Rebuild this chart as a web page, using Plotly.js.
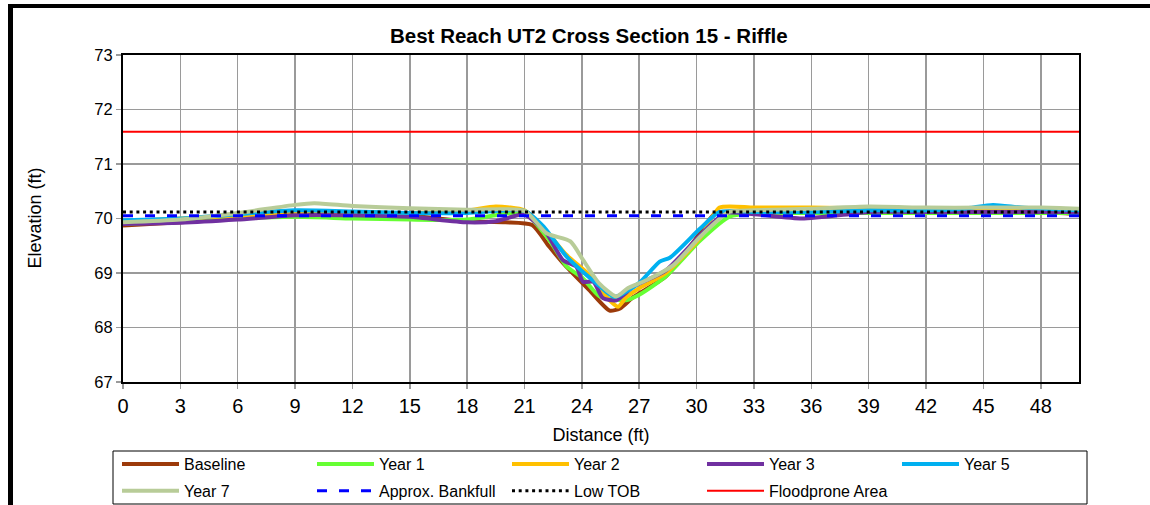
<!DOCTYPE html>
<html>
<head>
<meta charset="utf-8">
<script src="https://cdn.plot.ly/plotly-3.0.1.min.js"></script>
<style>
  html, body { margin: 0; padding: 0; background: #fff; overflow: hidden; }
  #frame { position: absolute; left: 8px; top: 4px; width: 2000px; height: 2000px;
           border-left: 5px solid #000; border-top: 4px solid #000; }
  #chart { position: absolute; left: 0; top: 0; width: 1150px; height: 505px; }
</style>
</head>
<body>
<div id="frame"></div>
<div id="chart"></div>
<script>
// ---- data ----
const baselineX = [0, 3, 6, 9, 12, 15, 18, 20, 21.4, 22.3, 23.2, 24.4, 25.45, 26.0, 26.7, 28.4, 29.9, 31.0, 33, 36, 39, 42, 45, 48, 50];
const baselineY = [69.87, 69.93, 70.0, 70.08, 70.08, 70.05, 69.95, 69.93, 69.88, 69.48, 69.11, 68.68, 68.31, 68.35, 68.56, 68.94, 69.6, 70.1, 70.12, 70.1, 70.12, 70.12, 70.12, 70.12, 70.08];

const year1X = [0, 3, 6, 9, 12, 15, 18, 21, 22.3, 23.2, 24.06, 24.9, 26.3, 27, 28.4, 30.2, 31.7, 33, 36, 39, 42, 45, 48, 50];
const year1Y = [69.9, 69.95, 70.0, 70.03, 70.0, 69.98, 69.98, 70.1, 69.6, 69.12, 68.9, 68.58, 68.5, 68.6, 68.94, 69.6, 70.03, 70.1, 70.1, 70.1, 70.1, 70.1, 70.1, 70.1];

const year2X = [0, 3, 6, 9, 12, 15, 18, 19.5, 21, 22.3, 23.2, 24.4, 25.45, 25.9, 26.3, 27, 28.4, 30.2, 31.2, 33, 36, 39, 42, 45, 48, 50];
const year2Y = [69.95, 70.0, 70.05, 70.12, 70.12, 70.1, 70.15, 70.22, 70.15, 69.7, 69.33, 68.96, 68.5, 68.38, 68.55, 68.72, 69.0, 69.65, 70.2, 70.2, 70.2, 70.18, 70.15, 70.15, 70.15, 70.15];

const year3X = [0, 3, 6, 9, 12, 15, 18, 19.5, 21, 22.15, 23.0, 23.7, 24.06, 24.6, 25.1, 25.8, 26.7, 28.4, 30.2, 31.5, 33, 35.5, 38, 39, 42, 45, 48, 50];
const year3Y = [69.9, 69.92, 69.98, 70.06, 70.06, 70.03, 69.93, 69.95, 70.07, 69.73, 69.24, 69.12, 68.84, 68.84, 68.54, 68.5, 68.75, 69.05, 69.7, 70.1, 70.08, 70.0, 70.08, 70.12, 70.12, 70.12, 70.12, 70.12];

const year5X = [0, 3, 6, 9, 12, 15, 18, 21, 22.0, 23.2, 24.76, 25.7, 27, 28.07, 28.6, 30.2, 31.2, 33, 36, 39, 42, 44, 45.5, 47, 50];
const year5Y = [69.97, 70.0, 70.08, 70.15, 70.13, 70.1, 70.1, 70.14, 69.85, 69.3, 68.81, 68.56, 68.82, 69.21, 69.28, 69.82, 70.12, 70.12, 70.12, 70.15, 70.15, 70.18, 70.25, 70.2, 70.15];

const year7X = [0, 3, 6, 9, 10, 12, 15, 18, 21, 22.15, 23.4, 24.06, 24.9, 25.8, 26.4, 27.4, 28.8, 30.2, 31.7, 33, 36, 39, 42, 45, 48, 50];
const year7Y = [69.93, 69.98, 70.1, 70.25, 70.28, 70.23, 70.19, 70.16, 70.14, 69.73, 69.58, 69.24, 68.81, 68.57, 68.72, 68.87, 69.15, 69.67, 70.12, 70.15, 70.18, 70.22, 70.2, 70.2, 70.2, 70.18];

const refX = [0, 50];
const bankfullY = [70.05, 70.05];
const lowTobY = [70.12, 70.12];
const floodproneY = [71.59, 71.59];

const xTicks = [0, 3, 6, 9, 12, 15, 18, 21, 24, 27, 30, 33, 36, 39, 42, 45, 48];
const yTicks = [67, 68, 69, 70, 71, 72, 73];

const seriesNames = ['Baseline', 'Year 1', 'Year 2', 'Year 3', 'Year 5', 'Year 7'];
const seriesColors = ['#9C3A0A', '#66FF33', '#FFC000', '#7030A0', '#00B0F0', '#B8CC98'];
const seriesXs = [baselineX, year1X, year2X, year3X, year5X, year7X];
const seriesYs = [baselineY, year1Y, year2Y, year3Y, year5Y, year7Y];
// legend column for each entry (Excel-style 5-column legend)
const seriesLegend = ['legend', 'legend2', 'legend3', 'legend4', 'legend5', 'legend'];

const traces = seriesNames.map((n, i) => ({
  x: seriesXs[i], y: seriesYs[i], name: n, mode: 'lines', type: 'scatter',
  legend: seriesLegend[i], legendgroup: 'g' + i,
  line: { color: seriesColors[i], width: 4, shape: 'spline', smoothing: 0.6 }
}));
traces.push({ x: refX, y: bankfullY, name: 'Approx. Bankfull', mode: 'lines', legend: 'legend2', legendgroup: 'g6',
  line: { color: '#0000FF', width: 3, dash: '10px,12px' } });
traces.push({ x: refX, y: lowTobY, name: 'Low TOB', mode: 'lines', legend: 'legend3', legendgroup: 'g7',
  line: { color: '#000000', width: 3, dash: '3px,3.7px' } });
traces.push({ x: refX, y: floodproneY, name: 'Floodprone Area', mode: 'lines', legend: 'legend4', legendgroup: 'g8',
  line: { color: '#FF0000', width: 2 } });

const font = 'Arial, "Liberation Sans", sans-serif';
function legendAt(col) {
  return {
    orientation: 'v', xref: 'container', yref: 'container',
    x: (117 + 195 * col) / 1150, xanchor: 'left', y: 1 - 447 / 505, yanchor: 'top',
    bgcolor: 'rgba(0,0,0,0)', borderwidth: 0,
    font: { size: 16, family: font }, itemwidth: 57,
    tracegroupgap: 3, traceorder: 'grouped'
  };
}

const W = 956, H = 327; // plot area size in px
const layout = {
  width: 1150, height: 505,
  margin: { l: 123, r: 71, t: 55, b: 123, autoexpand: false },
  paper_bgcolor: 'rgba(0,0,0,0)',
  plot_bgcolor: '#ffffff',
  font: { family: font, color: '#000' },
  title: { text: '<b>Best Reach UT2 Cross Section 15 - Riffle</b>', font: { size: 20.5, family: font, color: '#000' },
           xref: 'container', x: 0.512, xanchor: 'center', yref: 'container', y: 0.93, yanchor: 'middle' },
  xaxis: {
    range: [0, 50], tickvals: xTicks, ticktext: xTicks.map(String),
    showgrid: true, gridcolor: '#9a9a9a', gridwidth: 1.5,
    ticks: 'outside', ticklen: 5, tickcolor: '#9a9a9a', tickwidth: 1.5,
    showline: true, linecolor: '#000', linewidth: 2, mirror: true,
    zeroline: false, tickfont: { size: 20, family: font },
    title: { text: 'Distance (ft)', font: { size: 18, family: font }, standoff: 12 },
    automargin: false
  },
  yaxis: {
    range: [67, 73], tickvals: yTicks, ticktext: yTicks.map(String),
    showgrid: true, gridcolor: '#9a9a9a', gridwidth: 1.5,
    ticks: 'outside', ticklen: 5, tickcolor: '#9a9a9a', tickwidth: 1.5,
    showline: true, linecolor: '#000', linewidth: 2, mirror: true,
    zeroline: false, tickfont: { size: 16.5, family: font },
    automargin: false
  },
  annotations: [{
    text: 'Elevation (ft)', xref: 'paper', yref: 'paper', x: (34 - 123) / W, y: 0.5,
    xanchor: 'center', yanchor: 'middle', textangle: -90, showarrow: false,
    font: { size: 18, family: font, color: '#000' }
  }],
  showlegend: true,
  legend: legendAt(0), legend2: legendAt(1), legend3: legendAt(2), legend4: legendAt(3), legend5: legendAt(4),
  shapes: [{
    type: 'rect', xref: 'paper', yref: 'paper', layer: 'below',
    x0: (113 - 123) / W, x1: (1087 - 123) / W, y0: (382 - 504) / H, y1: (382 - 451) / H,
    line: { color: '#000', width: 1 }, fillcolor: '#ffffff'
  }]
};

Plotly.newPlot('chart', traces, layout, { displayModeBar: false, staticPlot: true });
</script>
</body>
</html>
